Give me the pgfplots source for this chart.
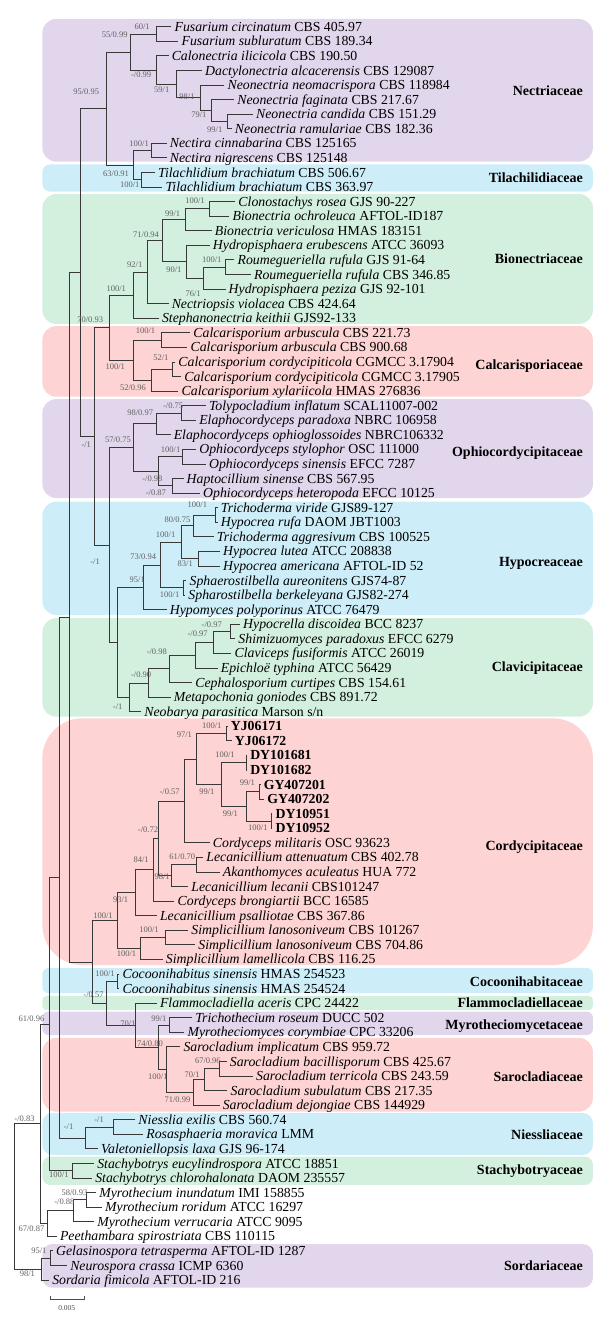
\documentclass[border=0pt]{standalone}
\usepackage{fontspec}
\setmainfont{Liberation Serif}
\usepackage{pgfplots}
\pgfplotsset{compat=1.18}
\definecolor{cpur}{RGB}{226,214,236}
\definecolor{cblu}{RGB}{205,238,249}
\definecolor{cgrn}{RGB}{211,240,223}
\definecolor{cpnk}{RGB}{253,211,211}
\tikzset{tx/.style={anchor=base west,inner sep=0pt,xshift=3pt,yshift=-4.6pt,font=\fontsize{13.8}{15}\selectfont},
 sl/.style={inner sep=0pt,font=\fontsize{8.5}{9}\selectfont,text=black!62},
 fml/.style={anchor=base east,inner sep=0pt,yshift=-4.9pt,font=\fontsize{14}{16}\selectfont\bfseries}}
\newcommand{\tx}[4]{\node[tx] at (axis cs:#1,#2) {\textit{#3} #4};}
\newcommand{\tb}[3]{\node[tx] at (axis cs:#1,#2) {\textbf{#3}};}
\newcommand{\bsv}[3]{\node[sl] at (axis cs:#2,#3) {#1};}
\newcommand{\fml}[2]{\node[fml] at (axis cs:495.5,#2) {#1};}
\newcommand{\famb}[4]{\addplot[draw=none,fill=#1,rounded corners=#4] coordinates {(270,#2) (504,#2) (504,#3) (36,#3) (36,#2)} -- cycle;}
\begin{document}
\begin{tikzpicture}
\begin{axis}[width=612pt,height=1329pt,scale only axis,xmin=0,xmax=520.2,ymin=-0.832,ymax=90.363,
 y dir=reverse,hide axis,clip=false,unbounded coords=jump]
\addplot[draw=none] coordinates {(0,-0.832) (520.2,90.363)};
% family boxes
\famb{cpur}{0.47}{10.26}{14pt}
\famb{cblu}{10.44}{12.32}{8pt}
\famb{cgrn}{12.48}{21.40}{14pt}
\famb{cpnk}{21.54}{26.39}{14pt}
\famb{cpur}{26.55}{33.34}{14pt}
\famb{cblu}{33.59}{41.37}{14pt}
\famb{cgrn}{41.58}{48.35}{14pt}
\famb{cpnk}{48.46}{65.39}{40pt}
\famb{cblu}{65.59}{67.31}{6pt}
\famb{cgrn}{67.51}{68.47}{4pt}
\famb{cpur}{68.59}{70.19}{6pt}
\famb{cpnk}{70.39}{75.45}{14pt}
\famb{cblu}{75.54}{78.42}{10pt}
\famb{cgrn}{78.54}{80.48}{8pt}
\famb{cpur}{84.53}{87.53}{10pt}
% tree branches
\addplot[black!78,line width=0.75pt] table[row sep=\\] {
x y\\
145.7 1\\ 132.7 1\\ 132.7 2\\ 151.7 2\\ nan nan\\
215 7\\ 193.3 7\\ 193.3 8\\ 197 8\\ nan nan\\
199 6\\ 179.3 6\\ 179.3 7.5\\ 193.3 7.5\\ nan nan\\
190.7 5\\ 170 5\\ 170 6.75\\ 179.3 6.75\\ nan nan\\
171.7 4\\ 150 4\\ 150 5.875\\ 170 5.875\\ nan nan\\
143.3 3\\ 132.7 3\\ 132.7 4.9375\\ 150 4.9375\\ nan nan\\
132.7 1.5\\ 110.7 1.5\\ 110.7 3.969\\ 132.7 3.969\\ nan nan\\
141.7 9\\ 128.3 9\\ 128.3 10\\ 141.7 10\\ nan nan\\
131.7 11\\ 120 11\\ 120 12\\ 138 12\\ nan nan\\
128.3 9.5\\ 113.3 9.5\\ 113.3 11.5\\ 120 11.5\\ nan nan\\
110.7 2.734\\ 90.7 2.734\\ 90.7 10.5\\ 113.3 10.5\\ nan nan\\
200 13\\ 178.3 13\\ 178.3 14\\ 195 14\\ nan nan\\
178.3 13.5\\ 157.7 13.5\\ 157.7 15\\ 180 15\\ nan nan\\
199.3 17\\ 191.7 17\\ 191.7 18\\ 213.3 18\\ nan nan\\
191.7 17.5\\ 172.7 17.5\\ 172.7 19\\ 191.7 19\\ nan nan\\
178.3 16\\ 158.3 16\\ 158.3 18.25\\ 172.7 18.25\\ nan nan\\
157.7 14.25\\ 138.3 14.25\\ 138.3 17.125\\ 158.3 17.125\\ nan nan\\
138.3 15.688\\ 125 15.688\\ 125 20\\ 143.3 20\\ nan nan\\
125 17.844\\ 113.3 17.844\\ 113.3 21\\ 135 21\\ nan nan\\
161.7 22\\ 137.3 22\\ 137.3 23\\ 159.3 23\\ nan nan\\
149 24\\ 146.7 24\\ 146.7 25\\ 154 25\\ nan nan\\
146.7 24.5\\ 128.3 24.5\\ 128.3 26\\ 151.7 26\\ nan nan\\
137.3 22.5\\ 113.3 22.5\\ 113.3 25.25\\ 128.3 25.25\\ nan nan\\
113.3 19.422\\ 92.7 19.422\\ 92.7 23.875\\ 113.3 23.875\\ nan nan\\
175 27\\ 154 27\\ 154 28\\ 166.7 28\\ nan nan\\
154 27.5\\ 133.3 27.5\\ 133.3 29\\ 145 29\\ nan nan\\
166.7 30\\ 155 30\\ 155 31\\ 175 31\\ nan nan\\
156 32\\ 146.7 32\\ 146.7 33\\ 170 33\\ nan nan\\
155 30.5\\ 135 30.5\\ 135 32.5\\ 146.7 32.5\\ nan nan\\
133.3 28.25\\ 113.3 28.25\\ 113.3 31.5\\ 135 31.5\\ nan nan\\
185 34\\ 183.3 34\\ 183.3 35\\ 185 35\\ nan nan\\
183.3 34.5\\ 164 34.5\\ 164 36\\ 181.7 36\\ nan nan\\
187 37\\ 168.3 37\\ 168.3 38\\ 187 38\\ nan nan\\
164 35.25\\ 154 35.25\\ 154 37.5\\ 168.3 37.5\\ nan nan\\
158.5 39\\ 156 39\\ 156 40\\ 157.5 40\\ nan nan\\
154 36.375\\ 136 36.375\\ 136 39.5\\ 156 39.5\\ nan nan\\
136 37.938\\ 121.7 37.938\\ 121.7 41\\ 141.7 41\\ nan nan\\
204 42\\ 196 42\\ 196 43\\ 200 43\\ nan nan\\
196 42.5\\ 181.7 42.5\\ 181.7 44\\ 196.7 44\\ nan nan\\
181.7 43.25\\ 165.7 43.25\\ 165.7 45\\ 185 45\\ nan nan\\
165.7 44.125\\ 144.3 44.125\\ 144.3 46\\ 163.3 46\\ nan nan\\
144.3 45.063\\ 126 45.063\\ 126 47\\ 145 47\\ nan nan\\
126 46.031\\ 110 46.031\\ 110 48\\ 120 48\\ nan nan\\
121.7 39.469\\ 100 39.469\\ 100 47.016\\ 110 47.016\\ nan nan\\
113.3 29.875\\ 92.7 29.875\\ 92.7 43.242\\ 100 43.242\\ nan nan\\
92.7 21.649\\ 80 21.649\\ 80 36.559\\ 92.7 36.559\\ nan nan\\
90.7 6.617\\ 68 6.617\\ 68 29.104\\ 80 29.104\\ nan nan\\
193.5 49\\ 192.3 49\\ 192.3 50\\ 197 50\\ nan nan\\
210 51\\ 209 51\\ 209 52\\ 210 52\\ nan nan\\
221.5 53\\ 220.7 53\\ 220.7 54\\ 224.5 54\\ nan nan\\
231.5 55\\ 230.7 55\\ 230.7 56\\ 231.5 56\\ nan nan\\
220.7 53.5\\ 209 53.5\\ 209 55.5\\ 230.7 55.5\\ nan nan\\
209 51.5\\ 188.3 51.5\\ 188.3 54.5\\ 209 54.5\\ nan nan\\
192.3 49.5\\ 166.7 49.5\\ 166.7 53\\ 188.3 53\\ nan nan\\
166.7 51.25\\ 156.7 51.25\\ 156.7 57\\ 178.3 57\\ nan nan\\
172.7 58\\ 166.7 58\\ 166.7 59\\ 186.7 59\\ nan nan\\
166.7 58.5\\ 145.7 58.5\\ 145.7 60\\ 160 60\\ nan nan\\
156.7 54.125\\ 135 54.125\\ 135 59.25\\ 145.7 59.25\\ nan nan\\
135 56.688\\ 130 56.688\\ 130 61\\ 148.3 61\\ nan nan\\
130 58.844\\ 115 58.844\\ 115 62\\ 133.3 62\\ nan nan\\
160 63\\ 140.7 63\\ 140.7 64\\ 166 64\\ nan nan\\
140.7 63.5\\ 119.3 63.5\\ 119.3 65\\ 138.3 65\\ nan nan\\
115 60.422\\ 100 60.422\\ 100 64.25\\ 119.3 64.25\\ nan nan\\
101.5 66\\ 100 66\\ 100 67\\ 101.5 67\\ nan nan\\
163.3 69\\ 144 69\\ 144 70\\ 156.7 70\\ nan nan\\
192.7 72\\ 186.7 72\\ 186.7 73\\ 215 73\\ nan nan\\
186.7 72.5\\ 173.3 72.5\\ 173.3 74\\ 193.3 74\\ nan nan\\
173.3 73.25\\ 164.3 73.25\\ 164.3 75\\ 186.7 75\\ nan nan\\
153.3 71\\ 141.7 71\\ 141.7 74.125\\ 164.3 74.125\\ nan nan\\
144 69.5\\ 135 69.5\\ 135 72.563\\ 141.7 72.563\\ nan nan\\
133.3 68\\ 115 68\\ 115 71.031\\ 135 71.031\\ nan nan\\
100 66.5\\ 90 66.5\\ 90 69.516\\ 115 69.516\\ nan nan\\
100 62.336\\ 78.3 62.336\\ 78.3 68.008\\ 90 68.008\\ nan nan\\
68 17.86\\ 59.3 17.86\\ 59.3 65.172\\ 78.3 65.172\\ nan nan\\
115 76\\ 96.7 76\\ 96.7 77\\ 121.7 77\\ nan nan\\
96.7 76.5\\ 72.7 76.5\\ 72.7 78\\ 83.3 78\\ nan nan\\
59.3 41.516\\ 50.7 41.516\\ 50.7 77.25\\ 72.7 77.25\\ nan nan\\
80 79\\ 61.7 79\\ 61.7 80\\ 78.3 80\\ nan nan\\
50.7 59.383\\ 41.7 59.383\\ 41.7 79.5\\ 61.7 79.5\\ nan nan\\
81.7 81\\ 73 81\\ 73 82\\ 86.7 82\\ nan nan\\
73 81.5\\ 62.7 81.5\\ 62.7 83\\ 80 83\\ nan nan\\
62.7 82.25\\ 40 82.25\\ 40 84\\ 48.3 84\\ nan nan\\
41.7 69.44\\ 34 69.44\\ 34 83.125\\ 40 83.125\\ nan nan\\
45 85\\ 42.7 85\\ 42.7 86\\ 57 86\\ nan nan\\
42.7 85.5\\ 35 85.5\\ 35 87\\ 41.7 87\\ nan nan\\
34 76.28\\ 12 76.28\\ 12 86.25\\ 35 86.25\\
};
% scale bar
\addplot[black!70,line width=0.6pt] table[row sep=\\] {x y\\ 42.7 88.12\\ 42.7 88.32\\ 71.7 88.32\\ 71.7 88.12\\};
\node[inner sep=0pt,font=\fontsize{7.5}{8}\selectfont,text=black!70] at (axis cs:56.7,88.95) {0.005};
% taxa
\tx{145.7}{1}{Fusarium circinatum}{CBS 405.97}
\tx{151.7}{2}{Fusarium subluratum}{CBS 189.34}
\tx{143.3}{3}{Calonectria ilicicola}{CBS 190.50}
\tx{171.7}{4}{Dactylonectria alcacerensis}{CBS 129087}
\tx{190.7}{5}{Neonectria neomacrispora}{CBS 118984}
\tx{199}{6}{Neonectria faginata}{CBS 217.67}
\tx{215}{7}{Neonectria candida}{CBS 151.29}
\tx{197}{8}{Neonectria ramulariae}{CBS 182.36}
\tx{141.7}{9}{Nectira cinnabarina}{CBS 125165}
\tx{141.7}{10}{Nectira nigrescens}{CBS 125148}
\tx{131.7}{11}{Tilachlidium brachiatum}{CBS 506.67}
\tx{138}{12}{Tilachlidium brachiatum}{CBS 363.97}
\tx{200}{13}{Clonostachys rosea}{GJS 90-227}
\tx{195}{14}{Bionectria ochroleuca}{AFTOL-ID187}
\tx{180}{15}{Bionectria vericulosa}{HMAS 183151}
\tx{178.3}{16}{Hydropisphaera erubescens}{ATCC 36093}
\tx{199.3}{17}{Roumegueriella rufula}{GJS 91-64}
\tx{213.3}{18}{Roumegueriella rufula}{CBS 346.85}
\tx{191.7}{19}{Hydropisphaera peziza}{GJS 92-101}
\tx{143.3}{20}{Nectriopsis violacea}{CBS 424.64}
\tx{135}{21}{Stephanonectria keithii}{GJS92-133}
\tx{161.7}{22}{Calcarisporium arbuscula}{CBS 221.73}
\tx{159.3}{23}{Calcarisporium arbuscula}{CBS 900.68}
\tx{149}{24}{Calcarisporium cordycipiticola}{CGMCC 3.17904}
\tx{154}{25}{Calcarisporium cordycipiticola}{CGMCC 3.17905}
\tx{151.7}{26}{Calcarisporium xylariicola}{HMAS 276836}
\tx{175}{27}{Tolypocladium inflatum}{SCAL11007-002}
\tx{166.7}{28}{Elaphocordyceps paradoxa}{NBRC 106958}
\tx{145}{29}{Elaphocordyceps ophioglossoides}{NBRC106332}
\tx{166.7}{30}{Ophiocordyceps stylophor}{OSC 111000}
\tx{175}{31}{Ophiocordyceps sinensis}{EFCC 7287}
\tx{156}{32}{Haptocillium sinense}{CBS 567.95}
\tx{170}{33}{Ophiocordyceps heteropoda}{EFCC 10125}
\tx{185}{34}{Trichoderma viride}{GJS89-127}
\tx{185}{35}{Hypocrea rufa}{DAOM JBT1003}
\tx{181.7}{36}{Trichoderma aggresivum}{CBS 100525}
\tx{187}{37}{Hypocrea lutea}{ATCC 208838}
\tx{187}{38}{Hypocrea americana}{AFTOL-ID 52}
\tx{158.5}{39}{Sphaerostilbella aureonitens}{GJS74-87}
\tx{157.5}{40}{Spharostilbella berkeleyana}{GJS82-274}
\tx{141.7}{41}{Hypomyces polyporinus}{ATCC 76479}
\tx{204}{42}{Hypocrella discoidea}{BCC 8237}
\tx{200}{43}{Shimizuomyces paradoxus}{EFCC 6279}
\tx{196.7}{44}{Claviceps fusiformis}{ATCC 26019}
\tx{185}{45}{Epichloë typhina}{ATCC 56429}
\tx{163.3}{46}{Cephalosporium curtipes}{CBS 154.61}
\tx{145}{47}{Metapochonia goniodes}{CBS 891.72}
\tx{120}{48}{Neobarya parasitica}{Marson s/n}
\tb{193.5}{49}{YJ06171}
\tb{197}{50}{YJ06172}
\tb{210}{51}{DY101681}
\tb{210}{52}{DY101682}
\tb{221.5}{53}{GY407201}
\tb{224.5}{54}{GY407202}
\tb{231.5}{55}{DY10951}
\tb{231.5}{56}{DY10952}
\tx{178.3}{57}{Cordyceps militaris}{OSC 93623}
\tx{172.7}{58}{Lecanicillium attenuatum}{CBS 402.78}
\tx{186.7}{59}{Akanthomyces aculeatus}{HUA 772}
\tx{160}{60}{Lecanicillium lecanii}{CBS101247}
\tx{148.3}{61}{Cordyceps brongiartii}{BCC 16585}
\tx{133.3}{62}{Lecanicillium psalliotae}{CBS 367.86}
\tx{160}{63}{Simplicillium lanosoniveum}{CBS 101267}
\tx{166}{64}{Simplicillium lanosoniveum}{CBS 704.86}
\tx{138.3}{65}{Simplicillium lamellicola}{CBS 116.25}
\tx{101.5}{66}{Cocoonihabitus sinensis}{HMAS 254523}
\tx{101.5}{67}{Cocoonihabitus sinensis}{HMAS 254524}
\tx{133.3}{68}{Flammocladiella aceris}{CPC 24422}
\tx{163.3}{69}{Trichothecium roseum}{DUCC 502}
\tx{156.7}{70}{Myrotheciomyces corymbiae}{CPC 33206}
\tx{153.3}{71}{Sarocladium implicatum}{CBS 959.72}
\tx{192.7}{72}{Sarocladium bacillisporum}{CBS 425.67}
\tx{215}{73}{Sarocladium terricola}{CBS 243.59}
\tx{193.3}{74}{Sarocladium subulatum}{CBS 217.35}
\tx{186.7}{75}{Sarocladium dejongiae}{CBS 144929}
\tx{115}{76}{Niesslia exilis}{CBS 560.74}
\tx{121.7}{77}{Rosasphaeria moravica}{LMM}
\tx{83.3}{78}{Valetoniellopsis laxa}{GJS 96-174}
\tx{80}{79}{Stachybotrys eucylindrospora}{ATCC 18851}
\tx{78.3}{80}{Stachybotrys chlorohalonata}{DAOM 235557}
\tx{81.7}{81}{Myrothecium inundatum}{IMI 158855}
\tx{86.7}{82}{Myrothecium roridum}{ATCC 16297}
\tx{80}{83}{Myrothecium verrucaria}{ATCC 9095}
\tx{48.3}{84}{Peethambara spirostriata}{CBS 110115}
\tx{45}{85}{Gelasinospora tetrasperma}{AFTOL-ID 1287}
\tx{57}{86}{Neurospora crassa}{ICMP 6360}
\tx{41.7}{87}{Sordaria fimicola}{AFTOL-ID 216}
% support values
\bsv{60/1}{120.8}{1.0}
\bsv{55/0.99}{97.5}{1.57}
\bsv{-/0.99}{120}{4.31}
\bsv{59/1}{137.5}{5.3}
\bsv{98/1}{159}{5.8}
\bsv{79/1}{169}{7.06}
\bsv{99/1}{182.5}{8.04}
\bsv{95/0.95}{73.3}{5.49}
\bsv{100/1}{118.3}{9.0}
\bsv{63/0.91}{98.7}{11.06}
\bsv{100/1}{110.3}{11.86}
\bsv{100/1}{165.8}{12.94}
\bsv{99/1}{146.7}{13.8}
\bsv{71/0.94}{124.2}{15.29}
\bsv{100/1}{180}{17.0}
\bsv{90/1}{147.8}{17.65}
\bsv{76/1}{164.2}{19.3}
\bsv{92/1}{114.5}{17.35}
\bsv{100/1}{98.8}{18.95}
\bsv{70/0.93}{76.7}{21.13}
\bsv{100/1}{123.7}{21.86}
\bsv{52/1}{136.7}{23.7}
\bsv{100/1}{98}{24.35}
\bsv{52/0.96}{113}{25.8}
\bsv{-/0.75}{147.2}{27.0}
\bsv{98/0.97}{119.2}{27.5}
\bsv{57/0.75}{100.3}{29.36}
\bsv{-/1}{73.3}{29.7}
\bsv{100/1}{145}{30.0}
\bsv{-/0.98}{129.5}{32.0}
\bsv{-/0.87}{132.5}{33.0}
\bsv{100/1}{167.8}{33.8}
\bsv{80/0.75}{150.8}{34.85}
\bsv{100/1}{140.8}{35.88}
\bsv{73/0.94}{121.7}{37.37}
\bsv{83/1}{157.5}{37.82}
\bsv{-/1}{80.8}{37.71}
\bsv{95/1}{116.7}{38.97}
\bsv{100/1}{144.2}{40.0}
\bsv{-/0.97}{180}{42.06}
\bsv{-/0.97}{168}{42.63}
\bsv{-/0.98}{133.3}{43.89}
\bsv{-/0.90}{120}{45.49}
\bsv{-/1}{100}{47.67}
\bsv{100/1}{180}{48.99}
\bsv{97/1}{156.7}{49.6}
\bsv{100/1}{191.2}{50.97}
\bsv{99/1}{210.3}{52.9}
\bsv{99/1}{175.8}{53.5}
\bsv{99/1}{195.8}{54.98}
\bsv{100/1}{219.2}{55.94}
\bsv{-/0.57}{144.2}{53.5}
\bsv{-/0.72}{125.8}{56.12}
\bsv{61/0.70}{155}{57.95}
\bsv{98/1}{137.8}{59.33}
\bsv{84/1}{120}{58.18}
\bsv{93/1}{102.5}{60.9}
\bsv{100/1}{87.5}{62.0}
\bsv{100/1}{126.7}{62.94}
\bsv{100/1}{107.5}{64.58}
\bsv{100/1}{89.2}{66.0}
\bsv{-/0.57}{79.5}{67.45}
\bsv{99/1}{135}{69.05}
\bsv{70/1}{108.8}{69.4}
\bsv{74/0.80}{127.5}{70.77}
\bsv{67/0.96}{176.7}{71.98}
\bsv{70/1}{163.3}{72.94}
\bsv{100/1}{134.2}{73.05}
\bsv{71/0.99}{150.8}{74.65}
\bsv{-/1}{84.2}{76.02}
\bsv{-/1}{58.3}{76.48}
\bsv{100/1}{50}{79.75}
\bsv{61/0.96}{26.7}{69.1}
\bsv{-/0.83}{20.8}{75.9}
\bsv{58/0.93}{63.3}{81.0}
\bsv{-/0.88}{54.7}{81.63}
\bsv{67/0.87}{26.7}{83.5}
\bsv{95/1}{33}{85.0}
\bsv{98/1}{23.3}{86.58}
% family names
\fml{Nectriaceae}{5.39}
\fml{Tilachilidiaceae}{11.33}
\fml{Bionectriaceae}{16.9}
\fml{Calcarisporiaceae}{24.2}
\fml{Ophiocordycipitaceae}{30.16}
\fml{Hypocreaceae}{37.71}
\fml{Clavicipitaceae}{44.92}
\fml{Cordycipitaceae}{57.22}
\fml{Cocoonihabitaceae}{66.49}
\fml{Flammocladiellaceae}{67.97}
\fml{Myrotheciomycetaceae}{69.46}
\fml{Sarocladiaceae}{73.05}
\fml{Niessliaceae}{77.0}
\fml{Stachybotryaceae}{79.45}
\fml{Sordariaceae}{86.02}
\end{axis}
\end{tikzpicture}
\end{document}
